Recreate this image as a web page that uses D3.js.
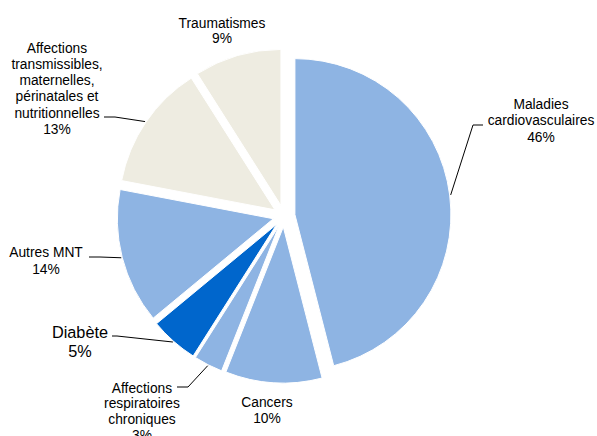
<!DOCTYPE html>
<html>
<head>
<meta charset="utf-8">
<script src="https://cdn.jsdelivr.net/npm/d3@7"></script>
<style>
  body { margin: 0; background: #fff; }
  text { font-family: "Liberation Sans", Arial, sans-serif; fill: #000; }
</style>
</head>
<body>
<div id="chart"></div>
<script>
// Chart data
const categories = [
  "Maladies cardiovasculaires",
  "Cancers",
  "Affections respiratoires chroniques",
  "Diabète",
  "Autres MNT",
  "Affections transmissibles, maternelles, périnatales et nutritionnelles",
  "Traumatismes"
];
const values = [46, 10, 3, 5, 14, 13, 9];
// label text broken into lines as in the picture
const labelLines = [
  ["Maladies", "cardiovasculaires", "46%"],
  ["Cancers", "10%"],
  ["Affections", "respiratoires", "chroniques", "3%"],
  ["Diabète", "5%"],
  ["Autres MNT", "14%"],
  ["Affections", "transmissibles,", "maternelles,", "périnatales et", "nutritionnelles", "13%"],
  ["Traumatismes", "9%"]
];

const colors = ["#8EB4E3", "#8EB4E3", "#8EB4E3", "#0066CC", "#8EB4E3", "#EEECE1", "#EEECE1"];

// label layout: text centre x, first line y, line height, font size, leader start/elbow (null = no leader)
const labelLayout = [
  { x: 541, y: 104, lh: 16.5, fs: 13.8, lead: [483, 125], elbow: [473, 125] },
  { x: 267, y: 402, lh: 16, fs: 13.8, lead: null },
  { x: 142, y: 388, lh: 15.6, fs: 13.8, lead: [177, 387], elbow: [188, 387] },
  { x: 80, y: 332, lh: 19, fs: 16.3, lead: [112, 336], elbow: [117, 336] },
  { x: 46, y: 252, lh: 17, fs: 13.8, lead: [89, 257], elbow: [100, 257] },
  { x: 57, y: 48, lh: 16.2, fs: 13.8, lead: [104, 117], elbow: [115, 117] },
  { x: 222, y: 23, lh: 15.5, fs: 13.8, lead: null }
];

const width = 597;
const height = 436;
const cx = 284, cy = 216;
const radius = 156;
const explode = 11;

const svg = d3.select("#chart")
  .append("svg")
  .attr("width", width)
  .attr("height", height);

const pie = d3.pie().sort(null).value(d => d);
const arcs = pie(values);

const arc = d3.arc().innerRadius(0).outerRadius(radius);

const color = d3.scaleOrdinal().domain(d3.range(values.length)).range(colors);

const midAngle = d => (d.startAngle + d.endAngle) / 2;
const offset = d => [Math.sin(midAngle(d)) * explode, -Math.cos(midAngle(d)) * explode];

const g = svg.append("g").attr("transform", `translate(${cx},${cy})`);

// Draw slices, each pulled out along its mid angle
g.selectAll(".slice")
  .data(arcs)
  .enter().append("path")
  .attr("class", "slice")
  .attr("d", arc)
  .attr("transform", d => `translate(${offset(d)[0]},${offset(d)[1]})`)
  .attr("fill", (d, i) => color(i))
  .attr("stroke", "#fff")
  .attr("stroke-width", 1);

// Leader lines
arcs.forEach((d, i) => {
  const L = labelLayout[i];
  if (!L.lead) return;
  const a = midAngle(d);
  const o = offset(d);
  const ex = cx + o[0] + Math.sin(a) * (radius + 1);
  const ey = cy + o[1] - Math.cos(a) * (radius + 1);
  svg.append("polyline")
    .attr("points", [L.lead, L.elbow, [ex, ey]].map(p => p.join(",")).join(" "))
    .attr("fill", "none")
    .attr("stroke", "#000")
    .attr("stroke-width", 1);
});

// Labels
arcs.forEach((d, i) => {
  const L = labelLayout[i];
  const t = svg.append("text")
    .attr("text-anchor", "middle")
    .style("font-size", L.fs + "px");
  labelLines[i].forEach((line, k) => {
    t.append("tspan")
      .attr("x", L.x)
      .attr("y", L.y + k * L.lh)
      .attr("dy", "0.35em")
      .text(line);
  });
});
</script>
</body>
</html>
